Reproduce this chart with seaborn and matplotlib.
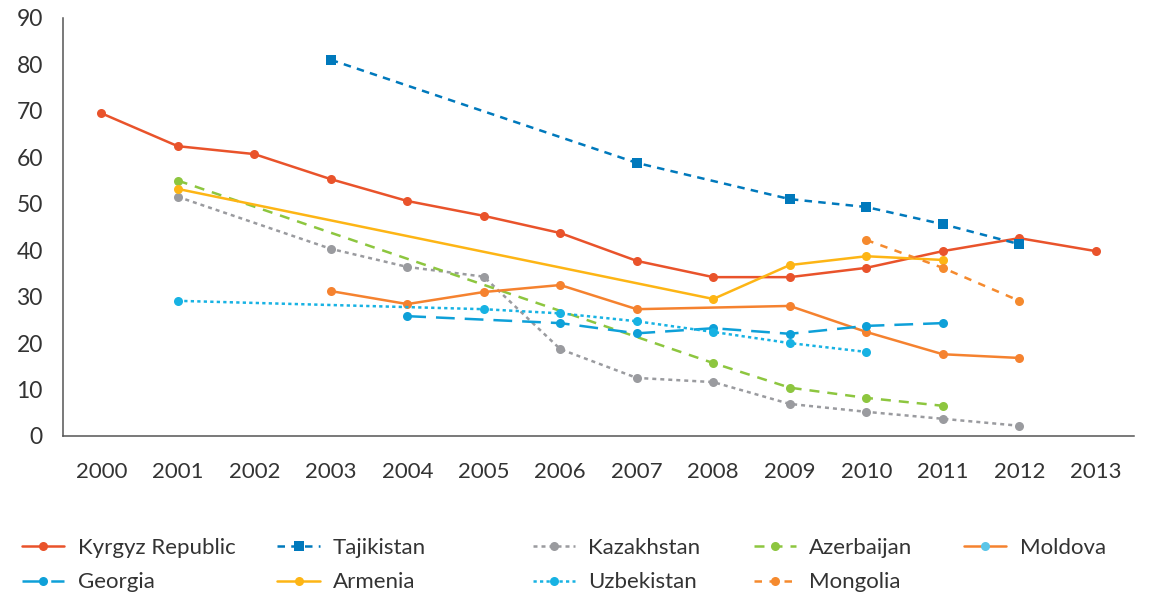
import pandas as pd
import numpy as np
import seaborn as sns
import matplotlib.pyplot as plt
from matplotlib.lines import Line2D

# values (years with no marker are left out)
kyrgyz_years = [2000, 2001, 2002, 2003, 2004, 2005, 2006, 2007, 2008, 2009, 2010, 2011, 2012, 2013]
kyrgyz = [69.5, 62.4, 60.7, 55.3, 50.6, 47.4, 43.7, 37.7, 34.2, 34.2, 36.2, 39.8, 42.6, 39.8]
tajik_years = [2003, 2007, 2009, 2010, 2011, 2012]
tajik = [81.0, 58.8, 51.0, 49.3, 45.6, 41.3]
kazakh_years = [2001, 2003, 2004, 2005, 2006, 2007, 2008, 2009, 2010, 2011, 2012]
kazakh = [51.5, 40.3, 36.4, 34.3, 18.7, 12.5, 11.6, 6.9, 5.2, 3.7, 2.2]
azer_years = [2001, 2008, 2009, 2010, 2011]
azer = [55.0, 15.7, 10.4, 8.2, 6.5]
moldova_years = [2003, 2004, 2005, 2006, 2007, 2009, 2010, 2011, 2012]
moldova = [31.2, 28.4, 31.0, 32.5, 27.3, 28.0, 22.4, 17.6, 16.8]
georgia_years = [2004, 2006, 2007, 2008, 2009, 2010, 2011]
georgia = [25.8, 24.3, 22.1, 23.2, 22.0, 23.7, 24.3]
armenia_years = [2001, 2008, 2009, 2010, 2011]
armenia = [53.2, 29.5, 36.8, 38.7, 37.9]
uzbek_years = [2001, 2005, 2006, 2007, 2008, 2009, 2010]
uzbek = [29.1, 27.3, 26.4, 24.7, 22.4, 20.0, 18.1]
mongolia_years = [2010, 2011, 2012]
mongolia = [42.2, 36.2, 29.1]

years = list(range(2000, 2014))

series = {
    "Kyrgyz Republic": (kyrgyz_years, kyrgyz),
    "Tajikistan": (tajik_years, tajik),
    "Kazakhstan": (kazakh_years, kazakh),
    "Azerbaijan": (azer_years, azer),
    "Moldova": (moldova_years, moldova),
    "Georgia": (georgia_years, georgia),
    "Armenia": (armenia_years, armenia),
    "Uzbekistan": (uzbek_years, uzbek),
    "Mongolia": (mongolia_years, mongolia),
}
rows = []
for name, (xs, ys) in series.items():
    for x, y in zip(xs, ys):
        rows.append({"year": x, "value": y, "country": name})
df = pd.DataFrame(rows)

colors = {
    "Kyrgyz Republic": "#E9532B",
    "Tajikistan": "#0079BC",
    "Kazakhstan": "#9A9B9F",
    "Azerbaijan": "#8DC63F",
    "Moldova": "#F5822F",
    "Georgia": "#0EA0D8",
    "Armenia": "#FDB515",
    "Uzbekistan": "#17B2E3",
    "Mongolia": "#F58A2E",
}
dashes = {
    "Kyrgyz Republic": "",
    "Tajikistan": (3, 2.5),
    "Kazakhstan": (1.6, 1.6),
    "Azerbaijan": (4, 3.2),
    "Moldova": "",
    "Georgia": (7.5, 4),
    "Armenia": "",
    "Uzbekistan": (1.3, 1.3),
    "Mongolia": (3, 3),
}
markers = {k: "o" for k in colors}
markers["Tajikistan"] = "s"

sns.set_style("white")
plt.rcParams["font.family"] = ["Lato", "DejaVu Sans"]
text_color = "#333333"

fig = plt.figure(figsize=(11.56, 5.96), dpi=100)
ax = fig.add_axes([0.0545, 0.2685, 0.9265, 0.7013])

sns.lineplot(data=df, x="year", y="value", hue="country", style="country",
             palette=colors, dashes=dashes, markers=markers, ax=ax,
             linewidth=1.8, markersize=6.5, markeredgewidth=0, legend=False)

ax.set_xlim(1999.5, 2013.5)
ax.set_ylim(0, 90)
ax.set_yticks(range(0, 91, 10))
ax.set_xticks(np.arange(1999.5, 2014, 1))
ax.set_xticklabels([])
ax.set_xticks(years, minor=True)
ax.set_xticklabels([str(y) for y in years], minor=True)
ax.tick_params(axis="x", which="major", direction="out", length=7, width=1.1, color="#555555")
ax.tick_params(axis="x", which="minor", length=0, pad=19, labelsize=16, labelcolor=text_color)
ax.tick_params(axis="y", direction="out", length=7.5, width=1.1, color="#555555",
               labelsize=16.5, labelcolor=text_color, pad=7)
for side in ["top", "right"]:
    ax.spines[side].set_visible(False)
for side in ["left", "bottom"]:
    ax.spines[side].set_color("#555555")
    ax.spines[side].set_linewidth(1.1)
ax.set_xlabel("")
ax.set_ylabel("")


def handle(name, face=None):
    d = dashes[name]
    h = Line2D([0], [0], color=colors[name], lw=1.8, marker=markers[name],
               markersize=6.5, markeredgewidth=0,
               markerfacecolor=face if face else colors[name])
    if d != "":
        h.set_dashes(d)
    return h


legend_cols = [
    (0.019, ["Kyrgyz Republic", "Georgia"]),
    (0.240, ["Tajikistan", "Armenia"]),
    (0.461, ["Kazakhstan", "Uzbekistan"]),
    (0.652, ["Azerbaijan", "Mongolia"]),
    (0.834, ["Moldova"]),
]
for x0, names in legend_cols:
    hs = [handle(n, "#5BC5E8" if n == "Moldova" else None) for n in names]
    leg = fig.legend(hs, names, loc="upper left", bbox_to_anchor=(x0, 0.098),
                     frameon=False, fontsize=16, handlelength=1.9, handletextpad=0.6,
                     labelspacing=0.67, borderpad=0, borderaxespad=0)
    for t in leg.get_texts():
        t.set_color(text_color)

fig.savefig("out.png", dpi=100)
